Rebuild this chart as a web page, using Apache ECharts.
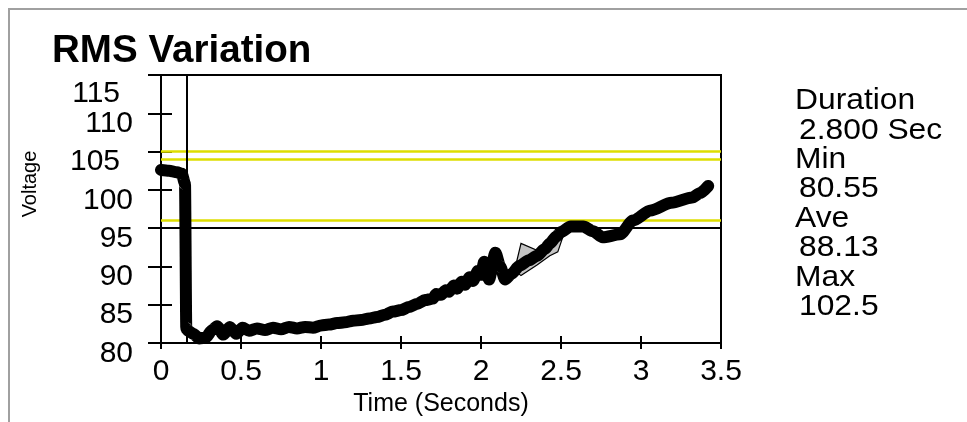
<!DOCTYPE html>
<html>
<head>
<meta charset="utf-8">
<script src="https://cdn.jsdelivr.net/npm/echarts@6/dist/echarts.min.js"></script>
<style>
html,body{margin:0;padding:0;background:#fff;}
#chart{width:967px;height:422px;}
</style>
</head>
<body>
<div id="chart"></div>
<script>
// ---- data ----
var timeSec = [0, 0.05, 0.10, 0.13, 0.15, 0.158, 0.17, 0.20, 0.24, 0.28, 0.32, 0.35, 0.39, 0.43, 0.47, 0.51, 0.55,
  0.60, 0.65, 0.70, 0.75, 0.80, 0.85, 0.90, 0.95, 1.00, 1.05, 1.10, 1.15, 1.20, 1.25, 1.30, 1.35, 1.40, 1.45,
  1.50, 1.55, 1.60, 1.65, 1.70, 1.72, 1.75, 1.78, 1.80, 1.83, 1.85, 1.88, 1.90, 1.93, 1.95, 1.98, 2.00, 2.02,
  2.05, 2.09, 2.12, 2.15, 2.19, 2.24, 2.30, 2.35, 2.40, 2.43, 2.47, 2.50, 2.56, 2.64, 2.70, 2.76, 2.87, 2.95,
  3.06, 3.19, 3.32, 3.37, 3.42];
var voltage = [102.6, 102.5, 102.3, 102.1, 100.8, 81.9, 81.6, 81.2, 80.6, 80.7, 81.7, 82.2, 81.1, 82.1, 81.2, 82.0, 81.6,
  81.9, 81.7, 82.0, 81.8, 82.1, 81.9, 82.1, 82.0, 82.3, 82.4, 82.6, 82.7, 82.9, 83.0, 83.2, 83.4, 83.7, 84.1,
  84.3, 84.7, 85.1, 85.6, 85.8, 86.4, 86.3, 86.9, 86.7, 87.5, 87.1, 88.0, 87.6, 88.6, 88.1, 89.4, 88.9, 90.6,
  88.3, 91.8, 90.0, 88.3, 89.0, 90.1, 90.8, 91.4, 92.3, 93.0, 93.9, 94.5, 95.2, 95.2, 94.6, 93.8, 94.2, 96.0,
  97.3, 98.3, 99.0, 99.6, 100.5];
// min/max envelope (grey band)
var envTime = [2.21, 2.25, 2.35, 2.43, 2.48, 2.53];
var envHigh = [89.5, 93.0, 92.1, 93.4, 94.2, 95.0];
var envLow  = [89.5, 88.8, 90.2, 91.4, 91.9, 95.0];
// limit lines
var yellowLimits = [105, 104, 96];
var nominalLine = 95;
var cursorTime = 0.1625;
// axes
var xTicks = [0, 3.5, 0.5];   // min, max, interval
var yTicks = [80, 115, 5];
var titleText = 'RMS Variation';
var xAxisTitle = 'Time (Seconds)';
var yAxisTitle = 'Voltage';
var statLines = ['Duration', '2.800 Sec', 'Min', '80.55', 'Ave', '88.13', 'Max', '102.5'];

var FONT = '"Liberation Sans", Arial, Helvetica, sans-serif';
var chart = echarts.init(document.getElementById('chart'), null, {renderer: 'canvas'});

var mainData = timeSec.map(function (t, i) { return [t, voltage[i]]; });
var envData = envTime.map(function (t, i) { return [t, envHigh[i], envLow[i]]; });

var graphics = [
  {type: 'rect', shape: {x: 9, y: 9, width: 1000, height: 500}, style: {fill: null, stroke: '#a0a0a0', lineWidth: 2}, silent: true, z: 0},
  {type: 'text', x: 52, y: 52, style: {text: titleText, font: 'bold 38px ' + FONT, fill: '#000', align: 'left', verticalAlign: 'middle'}, scaleX: 1.015},
  {type: 'text', x: 30, y: 184, rotation: Math.PI / 2, style: {text: yAxisTitle, font: '20px ' + FONT, fill: '#000', align: 'center', verticalAlign: 'middle'}}
];
statLines.forEach(function (s, i) {
  graphics.push({type: 'text', x: (i % 2 === 0) ? 795 : 799, y: 101 + 29.4 * i, scaleX: 1.06,
    style: {text: s, font: '30px ' + FONT, fill: '#000', align: 'left', verticalAlign: 'middle'}});
});

var markLines = yellowLimits.map(function (v) {
  return {yAxis: v, lineStyle: {color: '#dede00', width: 2.5, type: 'solid'}};
});
markLines.push({yAxis: nominalLine, lineStyle: {color: '#000', width: 2, type: 'solid'}});
markLines.push({xAxis: cursorTime, lineStyle: {color: '#000', width: 2, type: 'solid'}});

function renderEnvelope(params, api) {
  if (params.dataIndex !== 0) return null;
  var pts = [];
  for (var i = 0; i < envTime.length; i++) pts.push(api.coord([envTime[i], envHigh[i]]));
  for (var j = envTime.length - 1; j >= 0; j--) pts.push(api.coord([envTime[j], envLow[j]]));
  return {type: 'polygon', shape: {points: pts}, style: {fill: '#c4c4c4', stroke: '#000', lineWidth: 1.2}};
}

var option = {
  animation: false,
  backgroundColor: '#fff',
  grid: {left: 161, right: 246, top: 75, bottom: 77, show: true, borderColor: '#000', borderWidth: 2, backgroundColor: 'transparent'},
  graphic: graphics,
  xAxis: [{
    type: 'value', min: xTicks[0], max: xTicks[1], interval: xTicks[2],
    axisLine: {show: true, onZero: false, lineStyle: {color: '#000', width: 2}},
    axisTick: {show: true, inside: false, length: 6, lineStyle: {color: '#000', width: 2}},
    splitLine: {show: false},
    axisLabel: {fontSize: 30, fontFamily: FONT, color: '#000', margin: 14, lineHeight: 30,
      showMinLabel: true, showMaxLabel: true, hideOverlap: false},
    name: xAxisTitle, nameLocation: 'middle', nameGap: 49,
    nameTextStyle: {fontSize: 25, fontFamily: FONT, color: '#000', lineHeight: 25}
  }, {
    type: 'value', min: xTicks[0], max: xTicks[1], interval: xTicks[2], position: 'bottom',
    axisLine: {show: false}, axisLabel: {show: false}, splitLine: {show: false},
    axisTick: {show: true, inside: true, length: 7, lineStyle: {color: '#000', width: 2}}
  }],
  yAxis: [{
    type: 'value', min: yTicks[0], max: yTicks[1], interval: yTicks[2],
    axisLine: {show: true, onZero: false, lineStyle: {color: '#000', width: 2}},
    axisTick: {show: true, inside: false, length: 13, lineStyle: {color: '#000', width: 2}},
    splitLine: {show: false},
    axisLabel: {
      fontSize: 30, fontFamily: FONT, color: '#000', margin: 28, verticalAlign: 'top', lineHeight: 21,
      showMinLabel: true, showMaxLabel: true, hideOverlap: false,
      formatter: function (v) {
        if (v === yTicks[1]) return '';
        if (v === 105) return '{s|' + v + '}';
        return String(v);
      },
      rich: {
        s: {fontSize: 30, fontFamily: FONT, color: '#000', lineHeight: 21, padding: [0, 13, 0, 0]}
      }
    }
  }, {
    type: 'value', min: yTicks[0], max: yTicks[1], interval: yTicks[2], position: 'left',
    axisLine: {show: false}, axisLabel: {show: false}, splitLine: {show: false},
    axisTick: {show: true, inside: true, length: 11, lineStyle: {color: '#000', width: 2}}
  }],
  series: [{
    type: 'line', name: 'limits', data: [], xAxisIndex: 0, yAxisIndex: 0, silent: true, z: 3,
    markLine: {silent: true, symbol: 'none', label: {show: false}, animation: false, data: markLines}
  }, {
    type: 'custom', name: 'envelope', data: envData, renderItem: renderEnvelope, z: 4, silent: true,
    encode: {x: 0, y: [1, 2]}
  }, {
    type: 'line', name: 'RMS', data: mainData, showSymbol: false, symbol: 'none', z: 5,
    smooth: 0.25, smoothMonotone: 'x',
    lineStyle: {color: '#000', width: 12, cap: 'round', join: 'round'}, silent: true
  }]
};
chart.setOption(option);

// the top (115) tick label sits lower than its tick in the reference; place it from the axis scale
var yTop = chart.convertToPixel({yAxisIndex: 0}, yTicks[1]);
chart.setOption({graphic: graphics.concat([{
  type: 'text', x: 120, y: yTop + 19,
  style: {text: String(yTicks[1]), font: '30px ' + FONT, fill: '#000', align: 'right', verticalAlign: 'middle'}
}])});
</script>
</body>
</html>
